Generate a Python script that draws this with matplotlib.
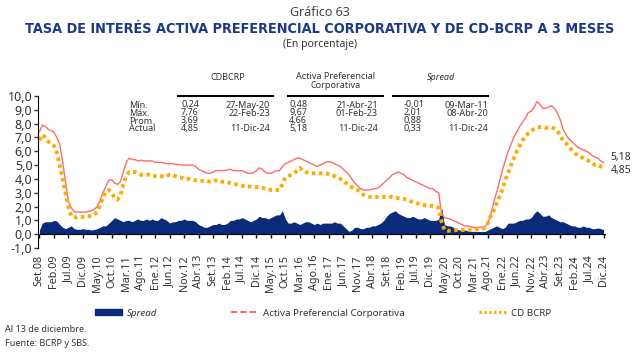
import matplotlib.pyplot as plt
import matplotlib.patches as mpatches
from matplotlib.lines import Line2D
from matplotlib.ticker import FuncFormatter
import numpy as np

plt.rcParams['font.family'] = ['Noto Sans', 'DejaVu Sans']

# monthly values, Set.08 ... Dic.24
cd_bcrp = [6.8, 7.2, 7.0, 6.7,
           6.6, 6.4, 5.9, 5.0, 4.0, 3.0, 2.0, 1.3, 1.25, 1.2, 1.25, 1.25,
           1.3, 1.3, 1.35, 1.45, 1.6, 2.1, 2.7, 3.1, 3.2, 3.0, 2.6, 2.5,
           2.8, 3.6, 4.2, 4.5, 4.5, 4.5, 4.4, 4.3, 4.3, 4.3, 4.3, 4.2,
           4.2, 4.2, 4.2, 4.15, 4.2, 4.3, 4.3, 4.2, 4.1, 4.1, 4.0, 4.0,
           4.0, 3.95, 3.9, 3.85, 3.85, 3.9, 3.85, 3.8, 3.8, 3.9, 3.9, 3.8,
           3.8, 3.75, 3.7, 3.65, 3.6, 3.55, 3.5, 3.5, 3.45, 3.45, 3.4, 3.4,
           3.4, 3.35, 3.3, 3.25, 3.2, 3.2, 3.2, 3.2, 3.6, 4.1, 4.2, 4.3,
           4.4, 4.6, 4.8, 4.6, 4.5, 4.45, 4.4, 4.4, 4.4, 4.4, 4.4, 4.4,
           4.35, 4.3, 4.2, 4.1, 4.0, 3.9, 3.7, 3.5, 3.4, 3.3, 3.2, 3.0,
           2.85, 2.75, 2.7, 2.7, 2.7, 2.7, 2.7, 2.7, 2.7, 2.7, 2.7, 2.65,
           2.6, 2.6, 2.55, 2.5, 2.4, 2.35, 2.3, 2.2, 2.15, 2.1, 2.05, 2.05,
           2.05, 2.0, 1.9, 0.9, 0.3, 0.25, 0.25, 0.25, 0.3, 0.3, 0.3, 0.3,
           0.3, 0.3, 0.3, 0.35, 0.4, 0.4, 0.45, 0.8, 1.3, 1.7, 2.2, 2.7,
           3.2, 3.9, 4.4, 5.0, 5.5, 6.0, 6.4, 6.8, 7.1, 7.3, 7.5, 7.6,
           7.7, 7.75, 7.75, 7.7, 7.7, 7.7, 7.65, 7.5, 7.1, 6.8, 6.6, 6.3,
           6.1, 5.9, 5.7, 5.6, 5.5, 5.4, 5.3, 5.2, 5.0, 5.0, 4.9, 4.85]

activa = [7.4, 7.9, 7.8, 7.6,
          7.5, 7.4, 7.0, 6.5, 5.3, 3.8, 2.4, 1.9, 1.65, 1.6, 1.6, 1.6,
          1.6, 1.65, 1.7, 1.8, 2.0, 2.5, 3.0, 3.5, 3.9, 3.95, 3.7, 3.6,
          3.8, 4.5, 5.2, 5.5, 5.4, 5.4, 5.3, 5.35, 5.3, 5.3, 5.3, 5.3,
          5.2, 5.2, 5.2, 5.15, 5.1, 5.1, 5.1, 5.05, 5.05, 5.0, 5.0, 5.0,
          5.0, 5.0, 4.9, 4.7, 4.6, 4.5, 4.4, 4.4, 4.5, 4.6, 4.6, 4.6,
          4.6, 4.65, 4.7, 4.6, 4.6, 4.6, 4.6, 4.5, 4.4, 4.4, 4.45, 4.6,
          4.8, 4.7, 4.5, 4.4, 4.4, 4.5, 4.6, 4.6, 4.9, 5.1, 5.2, 5.3,
          5.4, 5.5, 5.5, 5.4, 5.3, 5.2, 5.1, 5.0, 4.9, 5.0, 5.1, 5.2,
          5.25, 5.2, 5.1, 5.0, 4.9, 4.7, 4.5, 4.3, 4.0, 3.7, 3.5, 3.3,
          3.2, 3.2, 3.2, 3.25, 3.3, 3.35, 3.5, 3.7, 3.9, 4.1, 4.3, 4.4,
          4.5, 4.4, 4.3, 4.1, 4.0, 3.9, 3.8, 3.7, 3.6, 3.5, 3.4, 3.3,
          3.3, 3.1, 3.0, 1.5, 1.2, 1.15, 1.1, 1.0, 0.9, 0.8, 0.7, 0.6,
          0.6, 0.55, 0.5, 0.48, 0.5, 0.5, 0.55, 0.8, 1.4, 2.3, 3.0, 3.8,
          4.6, 5.3, 6.0, 6.5, 7.0, 7.4, 7.8, 8.1, 8.4, 8.8, 8.9, 9.2,
          9.6, 9.4, 9.1, 9.1, 9.2, 9.3, 9.1, 8.8, 8.3, 7.6, 7.2, 6.9,
          6.7, 6.5, 6.3, 6.2, 6.1, 6.0, 5.9, 5.7, 5.6, 5.5, 5.3, 5.18]

spread = [0.3, 0.8, 0.9, 0.9,
          0.9, 1.0, 0.95, 0.7, 0.5, 0.4, 0.5, 0.6, 0.4, 0.35, 0.35, 0.4,
          0.35, 0.35, 0.3, 0.35, 0.4, 0.5, 0.6, 0.6, 0.8, 1.0, 1.2, 1.1,
          1.0, 0.9, 1.0, 1.0, 0.9, 1.0, 1.1, 1.0, 1.0, 1.1, 1.0, 1.1,
          1.0, 1.0, 1.2, 1.1, 1.0, 0.8, 0.9, 0.9, 1.0, 1.0, 1.1, 1.0,
          1.0, 1.0, 0.9, 0.7, 0.6, 0.5, 0.5, 0.6, 0.7, 0.7, 0.8, 0.7,
          0.7, 0.8, 1.0, 1.0, 1.1, 1.1, 1.2, 1.1, 1.0, 0.9, 1.0, 1.1,
          1.3, 1.2, 1.2, 1.1, 1.2, 1.3, 1.4, 1.4, 1.7, 1.1, 0.8, 0.8,
          0.9, 0.8, 0.7, 0.8, 0.9, 0.9, 0.8, 0.7, 0.8, 0.7, 0.8, 0.8,
          0.8, 0.8, 0.9, 0.8, 0.8, 0.6, 0.4, 0.2, 0.3, 0.5, 0.5, 0.4,
          0.4, 0.5, 0.5, 0.6, 0.6, 0.7, 0.8, 1.0, 1.3, 1.5, 1.6, 1.7,
          1.5, 1.4, 1.3, 1.2, 1.2, 1.3, 1.2, 1.1, 1.1, 1.2, 1.1, 1.0,
          1.0, 1.0, 1.1, 1.9, 0.7, 0.6, 0.6, 0.5, 0.4, 0.3, 0.3, 0.3,
          0.25, 0.2, 0.2, 0.2, 0.2, 0.2, 0.2, 0.3, 0.4, 0.5, 0.6, 0.5,
          0.4, 0.5, 0.8, 0.8, 0.8, 0.9, 1.0, 1.0, 1.1, 1.1, 1.2, 1.5,
          1.7, 1.5, 1.3, 1.3, 1.4, 1.2, 1.1, 1.0, 0.9, 0.9, 0.8, 0.7,
          0.6, 0.6, 0.5, 0.5, 0.6, 0.5, 0.5, 0.4, 0.4, 0.45, 0.4, 0.33]

x_labels = ['Set.08', 'Feb.09', 'Jul.09', 'Dic.09', 'May.10', 'Oct.10', 'Mar.11',
            'Ago.11', 'Ene.12', 'Jun.12', 'Nov.12', 'Abr.13', 'Set.13', 'Feb.14',
            'Jul.14', 'Dic.14', 'May.15', 'Oct.15', 'Mar.16', 'Ago.16', 'Ene.17',
            'Jun.17', 'Nov.17', 'Abr.18', 'Set.18', 'Feb.19', 'Jul.19', 'Dic.19',
            'May.20', 'Oct.20', 'Mar.21', 'Ago.21', 'Ene.22', 'Jun.22', 'Nov.22',
            'Abr.23', 'Set.23', 'Feb.24', 'Jul.24', 'Dic.24']

row_names = ['Mín.', 'Máx.', 'Prom.', 'Actual']
cd_vals = ['0,24', '7,76', '3,69', '4,85']
cd_dates = ['27-May-20', '22-Feb-23', '', '11-Dic-24']
act_vals = ['0,48', '9,67', '4,66', '5,18']
act_dates = ['21-Abr-21', '01-Feb-23', '', '11-Dic-24']
spr_vals = ['-0,01', '2,01', '0,88', '0,33']
spr_dates = ['09-Mar-11', '08-Abr-20', '', '11-Dic-24']

NAVY = '#0a2b7a'
RED = '#ff6b6b'
ORANGE = '#ffaa00'
TXT = '#333333'

W, H = 640, 354
fig = plt.figure(figsize=(W / 100, H / 100), dpi=100)


def fx(px):
    return px / W


def fy(py):
    return 1 - py / H


ax = fig.add_axes([fx(38), fy(248), fx(605) - fx(38), fy(96) - fy(248)])

x = np.arange(len(cd_bcrp))
ax.fill_between(x, 0, spread, color=NAVY, lw=0)
ax.plot(x, activa, color=RED, lw=1.0)
ax.plot(x, cd_bcrp, color=ORANGE, lw=2.8, linestyle=(0, (0.9, 0.9)))

ymin, ymax = -1, 10
ax.set_ylim(ymin, ymax)
ax.set_xlim(-0.5, len(x) - 0.5)
ax.set_yticks(np.arange(ymin, ymax + 1, 1))
ax.yaxis.set_major_formatter(FuncFormatter(lambda v, p: f'{v:.1f}'.replace('.', ',')))
ax.tick_params(axis='y', labelsize=9, colors=TXT, length=3, width=1, pad=1)
ax.spines['left'].set_color('black')

# axis line at zero with ticks, labels at the bottom
ax.spines['top'].set_visible(False)
ax.spines['right'].set_visible(False)
ax.spines['bottom'].set_position(('data', 0))
ax.set_xticks(np.arange(0, len(x), 5))
ax.tick_params(axis='x', labelbottom=False, direction='out', length=3, width=1)

sec = ax.secondary_xaxis('bottom')
sec.set_xticks(np.arange(0, len(x), 5))
sec.set_xticklabels(x_labels, rotation=90, fontsize=7.8, color=TXT)
sec.tick_params(length=0, pad=5)
sec.spines['bottom'].set_visible(False)

# end labels
ax.annotate(act_vals[3], (x[-1], activa[-1]), xytext=(5, 3.5), textcoords='offset points',
            fontsize=7.5, color=TXT, va='center', annotation_clip=False)
ax.annotate(cd_vals[3], (x[-1], cd_bcrp[-1]), xytext=(5, -2.5), textcoords='offset points',
            fontsize=7.5, color=TXT, va='center', annotation_clip=False)

# titles
fig.text(0.5, fy(12), 'Gráfico 63', ha='center', va='center', fontsize=9, color='#444444')
title = fig.text(0.5, fy(29), 'TASA DE INTERÉS ACTIVA PREFERENCIAL CORPORATIVA Y DE CD-BCRP A 3 MESES',
                 ha='center', va='center', fontsize=10, fontweight='bold', color='#1b3a8c',
                 fontstretch='condensed', family='DejaVu Sans')
fig.canvas.draw()
tw = title.get_window_extent().width
title.set_fontsize(10 * 588 / tw)
fig.text(0.5, fy(44), '(En porcentaje)', ha='center', va='center', fontsize=7.5, color=TXT)

# statistics table
fs = 6.5
fig.text(fx(228), fy(77), 'CDBCRP', ha='center', va='center', fontsize=fs, fontweight='bold', color=TXT)
fig.text(fx(336), fy(81), 'Activa Preferencial\nCorporativa', ha='center', va='center',
         fontsize=fs, fontweight='bold', color=TXT, linespacing=1.1)
fig.text(fx(441), fy(77), 'Spread', ha='center', va='center', fontsize=fs, fontweight='bold',
         style='italic', color=TXT)
for x0, x1 in [(178, 273), (288, 383), (393, 488)]:
    fig.add_artist(Line2D([fx(x0), fx(x1)], [fy(96), fy(96)], color='black', lw=1.5))

row_y = [105, 113, 121, 129]
for i, name in enumerate(row_names):
    yy = fy(row_y[i])
    fig.text(fx(129), yy, name, ha='left', va='center', fontsize=fs, color=TXT)
    fig.text(fx(181), yy, cd_vals[i], ha='left', va='center', fontsize=fs, color=TXT)
    fig.text(fx(270), yy, cd_dates[i], ha='right', va='center', fontsize=fs, color=TXT)
    fig.text(fx(289), yy, act_vals[i], ha='left', va='center', fontsize=fs, color=TXT)
    fig.text(fx(378), yy, act_dates[i], ha='right', va='center', fontsize=fs, color=TXT)
    fig.text(fx(404), yy, spr_vals[i], ha='left', va='center', fontsize=fs, color=TXT)
    fig.text(fx(488), yy, spr_dates[i], ha='right', va='center', fontsize=fs, color=TXT)

# legend
handles = [mpatches.Patch(color=NAVY, label='Spread'),
           Line2D([], [], color=RED, lw=1.5, linestyle=(0, (3, 1.5)), label='Activa Preferencial Corporativa'),
           Line2D([], [], color=ORANGE, lw=2.2, linestyle=(0, (0.8, 0.8)), label='CD BCRP')]
leg = fig.legend(handles=handles, loc='center left', bbox_to_anchor=(fx(95), fy(313)), ncol=3,
                 frameon=False, fontsize=7, handlelength=2.8, handleheight=0.6,
                 columnspacing=7.6, handletextpad=0.5, borderpad=0, borderaxespad=0)
for t in leg.get_texts():
    t.set_color(TXT)
leg.get_texts()[0].set_style('italic')

fig.text(fx(5), fy(329), 'Al 13 de diciembre.', ha='left', va='center', fontsize=6.5, color=TXT)
fig.text(fx(5), fy(344), 'Fuente: BCRP y SBS.', ha='left', va='center', fontsize=6.5, color=TXT)

fig.savefig('out.png', dpi=100)
